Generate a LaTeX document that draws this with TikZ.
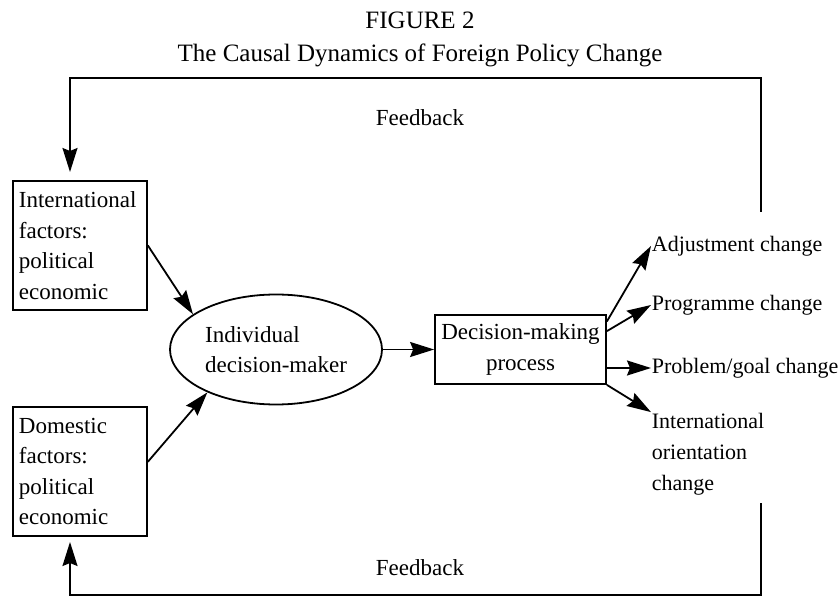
\documentclass[tikz,border=0pt]{standalone}
\usepackage{fontspec}
\setmainfont{Liberation Serif}
\usetikzlibrary{arrows.meta,shapes.geometric}

\begin{document}
\begin{tikzpicture}[x=0.5pt, y=-0.5pt, line width=0.9pt,
	>={Stealth[length=12pt,width=7.5pt,inset=1.5pt]},
	every node/.style={font=\fontsize{11.5}{15.25}\selectfont},
	factorbox/.style={draw, anchor=north west, align=left, text width=61pt, inner xsep=3pt, minimum height=64.5pt},
	outcome/.style={anchor=west, align=left, inner sep=0pt, font=\fontsize{11}{15.5}\selectfont}]
			\useasboundingbox (0,0) rectangle (840,598);
			
			% title
			\node[font=\fontsize{12.5}{15}\selectfont] (fignum) at (420,20) {FIGURE 2};
			\node[font=\fontsize{12.5}{15}\selectfont] (figtitle) at (420,55) {The Causal Dynamics of Foreign Policy Change};
			
			% input factors
			\node[factorbox] (intl) at (12,180) {International\\factors:\\political\\economic};
			\node[factorbox] (dom) at (12,406) {Domestic\\factors:\\political\\economic};
			
			% decision-maker and process
			\node[draw, ellipse, minimum width=106pt, minimum height=55pt, inner sep=0pt, align=left] (idm) at (276,349.5) {Individual\\decision-maker};
			\node[draw, minimum width=85.5pt, minimum height=34.5pt, inner xsep=2pt, align=center] (dmp) at (520.5,349.5) {Decision-making\\process};
			
			% kinds of change
			\node[outcome] (adj) at (651,246) {Adjustment change};
			\node[outcome] (prog) at (651,305) {Programme change};
			\node[outcome] (prob) at (651,368) {Problem/goal change};
			\node[outcome] (orient) at (651,454) {International\\orientation\\change};
			
			\draw[->] (intl.east) -- (idm.157);
			\draw[->] (dom.8) -- (idm.212);
			\draw[->] (idm.east) -- (dmp.west);
			
			\draw[->] (dmp.18) -- (adj.west);
			\draw[->] (dmp.12) -- (prog.west);
			\draw[->] (dmp.east |- prob.west) -- (prob.west);
			\draw[->] (dmp.south east) -- (orient.north west);
			
			% feedback loops
			\coordinate (fbtopstart) at (761,212);
			\coordinate (fbtopend) at (70,172);
			\draw[->] (fbtopstart) -- ++(0,-134) -| (fbtopend);
			\node (fbtoplabel) at (420,118) {Feedback};
			
			\coordinate (fbbotstart) at (761,503);
			\coordinate (fbbotend) at (70,542);
			\draw[->] (fbbotstart) -- ++(0,92) -| (fbbotend);
			\node (fbbotlabel) at (420,568) {Feedback};
\end{tikzpicture}
\end{document}
